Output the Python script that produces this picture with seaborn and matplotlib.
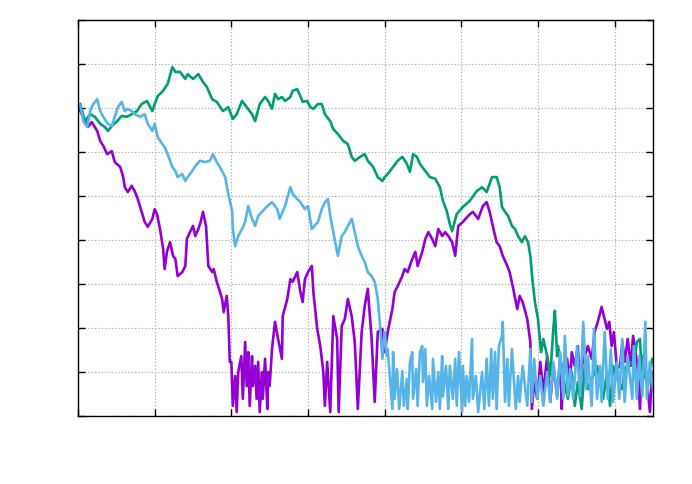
import pandas as pd
import seaborn as sns
import matplotlib.pyplot as plt

# three traces (x: 0..7.5, y: 0..9)
blue_x = [0, 0.03, 0.07, 0.12, 0.16, 0.20, 0.25, 0.29, 0.33, 0.39, 0.44, 0.48, 0.52, 0.57, 0.61, 0.65, 0.70, 0.74,
          0.81, 0.87, 0.91, 0.97, 1.00, 1.04, 1.10, 1.13, 1.17, 1.23, 1.27, 1.30, 1.36, 1.40, 1.43, 1.49, 1.53, 1.59,
          1.66, 1.72, 1.76, 1.81, 1.85, 1.92, 1.96, 2.01, 2.02, 2.05, 2.09, 2.14, 2.18, 2.22, 2.27, 2.31, 2.35, 2.40,
          2.47, 2.53, 2.60, 2.63, 2.70, 2.77, 2.80, 2.86, 2.90, 2.96, 3.00, 3.05, 3.13, 3.18, 3.22, 3.26, 3.29, 3.33,
          3.39, 3.44, 3.48, 3.52, 3.57, 3.61, 3.65, 3.70, 3.74, 3.78, 3.83, 3.87, 3.91, 3.94, 3.97, 4.00, 4.03,
          4.04, 4.10, 4.11, 4.13, 4.16, 4.19, 4.23, 4.25, 4.29, 4.30, 4.33, 4.36, 4.37, 4.41, 4.43, 4.46, 4.49, 4.50,
          4.53, 4.55, 4.58, 4.62, 4.63, 4.67, 4.70, 4.72, 4.75, 4.76, 4.80, 4.83, 4.85, 4.89, 4.92, 4.94, 4.97, 5.01,
          5.02, 5.05, 5.07, 5.10, 5.14, 5.15, 5.19, 5.22, 5.27, 5.30, 5.33, 5.36, 5.39, 5.41, 5.44, 5.46, 5.49, 5.53,
          5.54, 5.57, 5.60, 5.62, 5.66, 5.71, 5.74, 5.76, 5.80, 5.86, 5.90, 5.92, 5.95, 5.99, 6.03, 6.07, 6.12, 6.16,
          6.20, 6.25, 6.29, 6.33, 6.35, 6.39, 6.42, 6.46, 6.51, 6.55, 6.59, 6.63, 6.65, 6.70, 6.73, 6.77, 6.81, 6.83,
          6.87, 6.91, 6.95, 6.98, 7.03, 7.06, 7.10, 7.13, 7.17, 7.23, 7.25, 7.29, 7.32, 7.36, 7.40, 7.42, 7.46, 7.50]
blue_y = [7.09, 7.05, 6.70, 6.57, 6.93, 7.09, 7.20, 6.93, 6.80, 6.64, 6.59, 6.80, 7.02, 7.14, 6.93, 6.98, 6.93, 6.86,
          6.80, 6.86, 6.64, 6.48, 6.64, 6.34, 6.18, 6.11, 5.95, 5.66, 5.57, 5.43, 5.50, 5.34, 5.43, 5.57, 5.68, 5.80,
          5.77, 5.80, 5.95, 5.77, 5.66, 5.43, 5.05, 4.66, 4.25, 3.86, 4.09, 4.25, 4.41, 4.77, 4.48, 4.32, 4.55, 4.64,
          4.77, 4.86, 4.70, 4.48, 4.77, 5.20, 5.05, 4.93, 4.86, 4.70, 4.77, 4.25, 4.41, 4.70, 4.86, 4.93, 4.55, 4.18,
          3.64, 4.09, 4.18, 4.32, 4.48, 4.18, 3.86, 3.64, 3.50, 3.27, 3.18, 3.05, 2.66, 2.05, 1.30, 1.91, 1.36,
          1.52, 0.16, 1.45, 0.39, 1.07, 0.16, 1.02, 0.23, 0.84, 0.16, 1.23, 1.45, 0.39, 1.07, 0.23, 1.45, 1.59, 0.77,
          1.52, 0.23, 0.91, 0.16, 1.30, 0.32, 1.00, 0.16, 1.36, 0.45, 1.14, 0.16, 1.14, 0.39, 1.30, 0.23, 1.45, 0.09,
          1.14, 0.23, 0.91, 0.32, 1.75, 0.39, 0.91, 0.09, 1.00, 0.16, 1.30, 0.23, 1.52, 0.39, 1.45, 0.16, 1.59, 1.82,
          2.14, 0.32, 1.30, 0.23, 1.52, 0.16, 0.91, 0.32, 1.14, 0.23, 1.52, 0.32, 1.30, 0.39, 0.91, 0.23, 1.00, 0.32,
          1.23, 0.39, 1.45, 0.39, 1.82, 0.45, 1.07, 0.39, 1.59, 0.45, 2.14, 0.61, 1.36, 0.23, 1.98, 0.39, 1.14, 0.32,
          1.91, 0.39, 1.52, 0.32, 1.23, 0.39, 1.75, 0.32, 1.36, 0.39, 1.59, 0.39, 1.36, 0.45, 2.14, 0.39, 1.23, 0.61]

purple_x = [0, 0.03, 0.13, 0.18, 0.25, 0.29, 0.33, 0.38, 0.44, 0.48, 0.55, 0.59, 0.61, 0.65, 0.70, 0.74, 0.78, 0.83,
            0.87, 0.91, 0.97, 1.00, 1.03, 1.07, 1.11, 1.13, 1.16, 1.20, 1.24, 1.27, 1.30, 1.36, 1.40, 1.42, 1.46, 1.50,
            1.53, 1.57, 1.60, 1.63, 1.67, 1.70, 1.75, 1.77, 1.81, 1.84, 1.88, 1.90, 1.94, 1.96, 1.98,
            2.00, 2.02, 2.05, 2.07, 2.09, 2.13, 2.15, 2.18, 2.20, 2.22, 2.24, 2.27, 2.28, 2.31, 2.33, 2.35, 2.37, 2.40,
            2.41, 2.44, 2.47, 2.48, 2.50, 2.53, 2.57, 2.61, 2.66, 2.67, 2.73, 2.77, 2.80, 2.86, 2.90, 2.93, 2.96, 3.00,
            3.05, 3.07, 3.12, 3.16, 3.20, 3.22, 3.25, 3.29, 3.33, 3.38, 3.40, 3.44, 3.48, 3.52, 3.57, 3.61, 3.65, 3.70,
            3.74, 3.78, 3.83, 3.87, 3.91, 3.97, 4.00, 4.04, 4.10, 4.13, 4.17, 4.23, 4.26, 4.30, 4.36, 4.40, 4.43, 4.49,
            4.53, 4.57, 4.62, 4.66, 4.70, 4.75, 4.79, 4.83, 4.88, 4.92, 4.96, 5.02, 5.09, 5.15, 5.22, 5.28, 5.33, 5.37,
            5.41, 5.46, 5.50, 5.54, 5.60, 5.63, 5.67, 5.73, 5.76, 5.80, 5.86, 5.90, 5.92,
            5.95, 5.99, 6.03, 6.07, 6.12, 6.16, 6.20, 6.25, 6.29, 6.31, 6.33, 6.38, 6.42, 6.44, 6.48, 6.52, 6.55, 6.57,
            6.61, 6.65, 6.70, 6.74, 6.78, 6.83, 6.86, 6.90, 6.93, 6.96, 6.99, 7.03, 7.07, 7.10, 7.13, 7.17, 7.21, 7.24,
            7.28, 7.30, 7.33, 7.36, 7.40, 7.43, 7.46, 7.49]
purple_y = [7.05, 6.93, 6.57, 6.68, 6.48, 6.25, 6.14, 5.95, 6.02, 5.77, 5.66, 5.43, 5.20, 5.09, 5.23, 5.11, 4.93, 4.64,
            4.41, 4.30, 4.48, 4.70, 4.59, 4.25, 3.80, 3.34, 3.73, 3.95, 3.64, 3.57, 3.18, 3.27, 3.41, 4.02, 4.18, 4.32,
            4.09, 4.25, 4.41, 4.64, 4.32, 3.41, 3.27, 3.34, 3.05, 2.89, 2.66, 2.36, 2.73, 2.27, 1.23,
            1.23, 0.23, 0.91, 0.09, 1.00, 1.36, 0.39, 1.68, 0.68, 1.45, 0.23, 1.36, 0.68, 1.14, 0.39, 1.23, 0.09, 1.00,
            0.39, 1.30, 0.16, 1.00, 0.68, 1.52, 2.14, 1.75, 1.30, 2.27, 2.66, 3.11, 3.05, 3.27, 2.82, 2.59, 3.11, 3.27,
            3.41, 2.82, 1.98, 1.59, 1.00, 0.23, 1.23, 0.09, 2.27, 1.75, 0.09, 2.05, 2.20, 2.66, 2.27, 1.68, 0.16, 1.91,
            2.50, 2.89, 1.75, 0.32, 1.91, 1.98, 1.45, 1.91, 2.43, 2.82, 2.95, 3.18, 3.34, 3.27, 3.57, 3.73, 3.41, 3.73,
            4.02, 4.18, 4.02, 3.86, 4.25, 4.09, 4.18, 4.09, 3.95, 3.64, 4.32, 4.41, 4.55, 4.64, 4.48, 4.77, 4.86, 4.64,
            4.32, 3.95, 3.86, 3.64, 3.41, 3.27, 2.95, 2.43, 2.73, 2.59, 2.20, 1.68, 0.16,
            0.77, 0.39, 1.23, 0.55, 1.36, 0.32, 1.14, 0.45, 1.36, 0.16, 1.00, 1.30, 0.77, 1.45, 1.14, 1.59, 0.39, 1.14,
            1.36, 1.59, 1.30, 1.91, 2.14, 2.48, 2.27, 1.98, 2.14, 1.59, 1.91, 1.07, 1.14, 1.68, 1.23, 1.75, 1.14, 1.82,
            1.36, 1.07, 0.16, 1.36, 1.07, 0.61, 0.09, 1.00]

green_x = [0, 0.03, 0.09, 0.16, 0.22, 0.29, 0.35, 0.39, 0.44, 0.51, 0.57, 0.64, 0.70, 0.77, 0.83, 0.90, 0.97, 1.00,
           1.04, 1.11, 1.17, 1.23, 1.27, 1.33, 1.40, 1.43, 1.50, 1.57, 1.63, 1.68, 1.75, 1.81, 1.89, 1.96, 2.02, 2.07,
           2.14, 2.20, 2.27, 2.31, 2.37, 2.44, 2.48, 2.53, 2.57, 2.61, 2.66, 2.70, 2.77, 2.80, 2.86, 2.90, 2.93, 2.99,
           3.03, 3.07, 3.13, 3.18, 3.22, 3.29, 3.33, 3.39, 3.46, 3.52, 3.57, 3.61, 3.68, 3.74, 3.78, 3.85, 3.91, 3.97,
           4.00, 4.04, 4.11, 4.17, 4.23, 4.29, 4.33, 4.37, 4.42, 4.46, 4.53, 4.59, 4.66, 4.72, 4.76, 4.81, 4.85, 4.88,
           4.94, 5.02, 5.11, 5.20, 5.27, 5.33, 5.40, 5.46, 5.50, 5.53, 5.57, 5.61, 5.66, 5.70, 5.74, 5.79, 5.83, 5.87,
           5.90, 5.93, 5.96, 6.00, 6.04, 6.07, 6.12, 6.16, 6.20, 6.22, 6.25, 6.26, 6.31, 6.35, 6.39, 6.44, 6.48, 6.52,
           6.57, 6.61, 6.65, 6.72, 6.77, 6.81, 6.85, 6.90, 6.94, 6.98, 7.03, 7.10, 7.13, 7.20, 7.24, 7.29, 7.33, 7.36,
           7.40, 7.43, 7.49]
green_y = [7.05, 7.09, 6.70, 6.86, 6.80, 6.64, 6.57, 6.48, 6.59, 6.70, 6.82, 6.80, 6.86, 6.93, 7.09, 7.16, 6.93, 7.09,
           7.27, 7.39, 7.55, 7.93, 7.82, 7.82, 7.66, 7.77, 7.66, 7.77, 7.59, 7.48, 7.20, 7.14, 6.93, 7.02, 6.75, 6.86,
           7.16, 7.02, 6.86, 6.70, 7.09, 7.25, 7.16, 6.98, 7.32, 7.20, 7.25, 7.16, 7.25, 7.39, 7.43, 7.27, 7.14, 7.16,
           7.02, 6.98, 7.09, 7.09, 6.86, 6.70, 6.52, 6.41, 6.25, 6.18, 5.89, 5.80, 5.89, 5.95, 5.80, 5.66, 5.43, 5.34,
           5.43, 5.50, 5.66, 5.80, 5.89, 5.73, 5.55, 5.95, 5.89, 5.73, 5.57, 5.43, 5.39, 5.20, 4.89, 4.66, 4.36, 4.20,
           4.59, 4.75, 4.89, 5.11, 5.20, 5.09, 5.43, 5.43, 5.20, 4.75, 4.64, 4.55, 4.32, 4.25, 4.09, 3.95, 4.09, 3.95,
           3.64, 3.05, 2.59, 2.20, 1.45, 1.75, 1.36, 0.91, 1.98, 2.39, 1.36, 1.59, 1.14, 0.68, 0.39, 1.00, 0.23, 0.77,
           0.16, 1.14, 0.61, 0.91, 1.14, 0.77, 0.39, 1.00, 0.23, 1.14, 0.84, 0.61, 1.07, 1.23, 1.14, 1.68, 1.75, 0.77,
           1.00, 0.68, 1.30]

# drawing order: purple first, blue last (on top)
series_names = ['purple', 'green', 'blue']
colors = ['#9400d3', '#009e73', '#56b4e9']

frames = []
for name, xs, ys in [('purple', purple_x, purple_y), ('green', green_x, green_y), ('blue', blue_x, blue_y)]:
    frames.append(pd.DataFrame({'x': xs, 'y': ys, 'series': name}))
df = pd.concat(frames, ignore_index=True)

sns.set_style('white')
fig = plt.figure(figsize=(6.92, 4.85), dpi=100)
ax = fig.add_axes([78 / 692, 68 / 485, 575 / 692, 396 / 485])

sns.lineplot(data=df, x='x', y='y', hue='series', hue_order=series_names,
             palette=colors, estimator=None, sort=False, legend=False,
             linewidth=1.9, ax=ax)

ax.set_xlim(0, 7.5)
ax.set_ylim(0, 9)
ax.set_xticks(range(0, 8))
ax.set_yticks(range(0, 10))
ax.set_xticklabels([])
ax.set_yticklabels([])
ax.set_xlabel('')
ax.set_ylabel('')
ax.grid(True, color='#a0a0a0', linestyle=(0, (1, 2)), linewidth=0.8)
ax.tick_params(direction='in', length=5, width=1, color='black',
               top=True, right=True, bottom=True, left=True)
for sp in ax.spines.values():
    sp.set_color('black')
    sp.set_linewidth(1.0)

fig.savefig('out.png', dpi=100)
